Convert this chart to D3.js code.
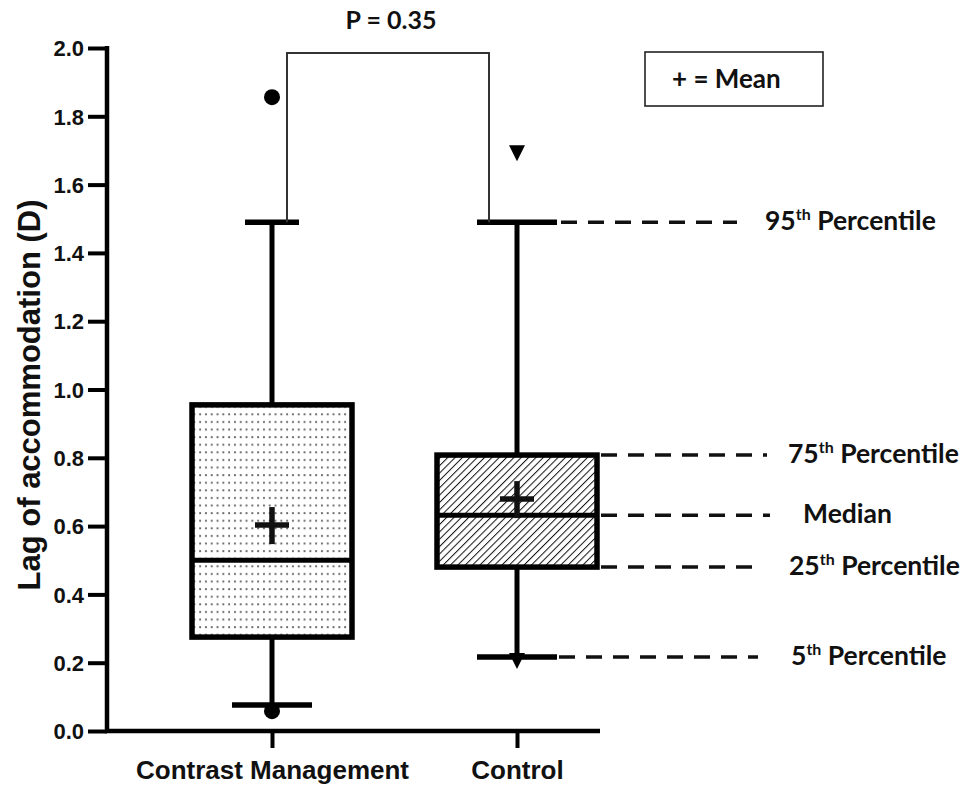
<!DOCTYPE html>
<html>
<head>
<meta charset="utf-8">
<script src="https://cdn.jsdelivr.net/npm/d3@7"></script>
<style>
  html, body { margin: 0; padding: 0; background: #fff; }
  svg { display: block; }
</style>
</head>
<body>
<svg id="chart" width="961" height="788"></svg>
<script>
// ---- data ----
const categories = ["Contrast Management", "Control"];
const p5 = [0.076, 0.217];
const q1 = [0.275, 0.48];
const median = [0.50, 0.632];
const q3 = [0.955, 0.808];
const p95 = [1.49, 1.49];
const means = [0.603, 0.679];
const outliersHigh = [1.856, 1.695];
const outliersLow = [0.058, 0.208];
const outlierShapes = ["circle", "triangle"];
const yTicks = [0, 0.2, 0.4, 0.6, 0.8, 1.0, 1.2, 1.4, 1.6, 1.8, 2.0];
const pValueLabel = "P = 0.35";
const legendLabel = "+ = Mean";
const annotNames = ["95", "75", "Median", "25", "5"];

// ---- layout ----
const svg = d3.select("#chart");
const y = d3.scaleLinear().domain([0, 2]).range([731, 48]);
const x = d3.scalePoint().domain(categories).range([272, 517]);
const axisX0 = 107, axisX1 = 600;
const boxW = 160;
const capTopW = [54, 80], capBotW = [80, 80];
const boldSans = "'Liberation Sans', Arial, sans-serif";
const calib = "Lato, 'Open Sans', sans-serif";

// patterns
const defs = svg.append("defs");
const dots = defs.append("pattern").attr("id", "dots").attr("patternUnits", "userSpaceOnUse")
  .attr("width", 5.8).attr("height", 7.6);
dots.append("rect").attr("width", 5.8).attr("height", 7.6).attr("fill", "#fff");
dots.append("rect").attr("x", 2).attr("y", 3).attr("width", 1.9).attr("height", 1.9).attr("fill", "#666");
const hatch = defs.append("pattern").attr("id", "hatch").attr("patternUnits", "userSpaceOnUse")
  .attr("width", 5.2).attr("height", 5.2).attr("patternTransform", "rotate(45)");
hatch.append("rect").attr("width", 5.2).attr("height", 5.2).attr("fill", "#fff");
hatch.append("line").attr("x1", 0).attr("y1", 0).attr("x2", 0).attr("y2", 5.2)
  .attr("stroke", "#111").attr("stroke-width", 2);
const fills = ["url(#dots)", "url(#hatch)"];

// ---- y axis ----
const yAxis = d3.axisLeft(y).tickValues(yTicks).tickFormat(d3.format(".1f")).tickSize(19).tickPadding(4);
const gy = svg.append("g").attr("transform", `translate(${axisX0},0)`).call(yAxis);
gy.select(".domain").remove();
gy.selectAll(".tick line").attr("stroke", "#000").attr("stroke-width", 4);
gy.selectAll(".tick text").attr("font-family", boldSans).attr("font-weight", "bold")
  .attr("font-size", 22).attr("fill", "#111").attr("dy", "0.35em");

// ---- x axis ----
const xAxis = d3.axisBottom(x).tickSize(17).tickPadding(8);
const gx = svg.append("g").attr("transform", `translate(0,${y(0)})`).call(xAxis);
gx.select(".domain").remove();
gx.selectAll(".tick line").attr("stroke", "#000").attr("stroke-width", 4);
gx.selectAll(".tick text").attr("font-family", boldSans).attr("font-weight", "bold")
  .attr("font-size", 26).attr("fill", "#111").attr("dy", "0.9em");

// axis lines
svg.append("path")
  .attr("d", `M${axisX0},${y(2) - 2}V${y(0)}H${axisX1}`)
  .attr("fill", "none").attr("stroke", "#000").attr("stroke-width", 4.5)
  .attr("stroke-linejoin", "miter");

// axis title
svg.append("text")
  .attr("transform", `translate(40,${395}) rotate(-90)`)
  .attr("text-anchor", "middle")
  .attr("font-family", boldSans).attr("font-weight", "bold").attr("font-size", 31)
  .attr("fill", "#111").text("Lag of accommodation (D)");

// ---- boxes ----
categories.forEach((c, i) => {
  const cx = x(c);
  const g = svg.append("g");
  // whiskers
  g.append("line").attr("x1", cx).attr("x2", cx).attr("y1", y(p95[i])).attr("y2", y(q3[i]))
    .attr("stroke", "#000").attr("stroke-width", 5);
  g.append("line").attr("x1", cx).attr("x2", cx).attr("y1", y(q1[i])).attr("y2", y(p5[i]))
    .attr("stroke", "#000").attr("stroke-width", 5);
  // caps
  [[p95[i], capTopW[i]], [p5[i], capBotW[i]]].forEach(([v, w]) => {
    g.append("line").attr("x1", cx - w / 2).attr("x2", cx + w / 2).attr("y1", y(v)).attr("y2", y(v))
      .attr("stroke", "#000").attr("stroke-width", 5.5);
  });
  // box
  g.append("rect").attr("x", cx - boxW / 2).attr("width", boxW)
    .attr("y", y(q3[i])).attr("height", y(q1[i]) - y(q3[i]))
    .attr("fill", fills[i]).attr("stroke", "#000").attr("stroke-width", 5.5);
  // median
  g.append("line").attr("x1", cx - boxW / 2).attr("x2", cx + boxW / 2)
    .attr("y1", y(median[i])).attr("y2", y(median[i]))
    .attr("stroke", "#000").attr("stroke-width", 5);
  // mean cross
  const my = y(means[i]);
  g.append("line").attr("x1", cx - 17).attr("x2", cx + 17).attr("y1", my).attr("y2", my)
    .attr("stroke", "#111").attr("stroke-width", 5.5);
  g.append("line").attr("x1", cx).attr("x2", cx).attr("y1", my - 18).attr("y2", my + 19)
    .attr("stroke", "#111").attr("stroke-width", 5.5);
  // outliers
  [outliersHigh[i], outliersLow[i]].forEach(v => {
    if (outlierShapes[i] === "circle") {
      g.append("circle").attr("cx", cx).attr("cy", y(v)).attr("r", 8).attr("fill", "#000");
    } else {
      const ty = y(v);
      g.append("path").attr("d", `M${cx - 8},${ty - 7}L${cx + 8},${ty - 7}L${cx},${ty + 9}Z`).attr("fill", "#000");
    }
  });
});

// ---- significance bracket ----
const bx0 = x(categories[0]) + 15, bx1 = x(categories[1]) - 28;
const bTop = 53;
svg.append("path")
  .attr("d", `M${bx0},${y(p95[0])}V${bTop}H${bx1}V${y(p95[1])}`)
  .attr("fill", "none").attr("stroke", "#333").attr("stroke-width", 2);
svg.append("text").attr("x", (bx0 + bx1) / 2 + 3).attr("y", 29).attr("text-anchor", "middle")
  .attr("font-family", calib).attr("font-weight", "bold").attr("font-size", 25)
  .attr("fill", "#111").text(pValueLabel);

// ---- legend ----
svg.append("rect").attr("x", 645).attr("y", 52).attr("width", 178).attr("height", 54)
  .attr("fill", "#fff").attr("stroke", "#222").attr("stroke-width", 1.6);
svg.append("text").attr("x", 672).attr("y", 88)
  .attr("font-family", calib).attr("font-weight", "bold").attr("font-size", 26)
  .attr("fill", "#111").text(legendLabel);

// ---- percentile annotations (for Control box) ----
const ci = 1, ccx = x(categories[1]);
const annots = [
  { v: p95[ci], x0: ccx + capTopW[ci] / 2 + 4, x1: 737, tx: 765 },
  { v: q3[ci], x0: ccx + boxW / 2 + 4, x1: 767, tx: 788 },
  { v: median[ci], x0: ccx + boxW / 2 + 4, x1: 770, tx: 803 },
  { v: q1[ci], x0: ccx + boxW / 2 + 4, x1: 762, tx: 789 },
  { v: p5[ci], x0: ccx + capBotW[ci] / 2 + 2, x1: 758, tx: 791 }
];
annots.forEach((a, k) => {
  const yy = y(a.v);
  svg.append("line").attr("x1", a.x0).attr("x2", a.x1).attr("y1", yy).attr("y2", yy)
    .attr("stroke", "#111").attr("stroke-width", 3.5).attr("stroke-dasharray", "16,11");
  const t = svg.append("text").attr("x", a.tx).attr("y", yy + 8)
    .attr("font-family", calib).attr("font-weight", "bold").attr("font-size", 26.5).attr("fill", "#111");
  const name = annotNames[k];
  if (name === "Median") {
    t.text(name);
  } else {
    t.append("tspan").text(name);
    t.append("tspan").attr("font-size", 16).attr("dy", -10).text("th");
    t.append("tspan").attr("dy", 10).text(" Percentile");
  }
});
</script>
</body>
</html>
